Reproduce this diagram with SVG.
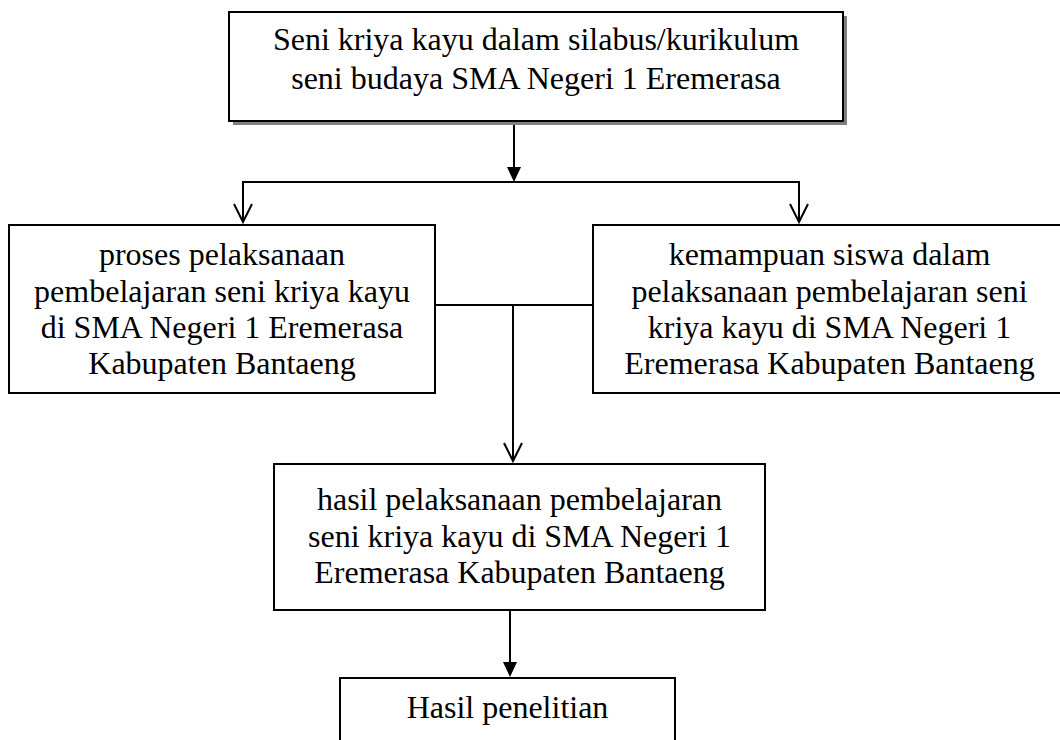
<svg xmlns="http://www.w3.org/2000/svg" width="1060" height="740" viewBox="0 0 1060 740">
<style>
.box{fill:#fff;stroke:#000;stroke-width:2}
.shadow{fill:#808080;stroke:none}
.t{font-family:"Liberation Serif","Times New Roman",serif;font-size:32px;fill:#000;text-anchor:middle}
.ln{fill:none;stroke:#000;stroke-width:2}
.fill{fill:#000;stroke:none}
</style>
<rect width="1060" height="740" fill="#fff"/>
<g id="connectors">
<line class="ln" x1="514" y1="121" x2="514" y2="170"/>
<polygon class="fill" points="507,167 521,167 514,182"/>
<polyline class="ln" points="243,222 243,182 799,182 799,222"/>
<path class="ln" d="M234,204 L243,222 L252,204"/>
<path class="ln" d="M790,204 L799,222 L808,204"/>
<line class="ln" x1="435" y1="305" x2="593" y2="305"/>
<line class="ln" x1="513" y1="305" x2="513" y2="461"/>
<path class="ln" d="M504,443 L513,461 L522,443"/>
<line class="ln" x1="510" y1="610" x2="510" y2="664"/>
<polygon class="fill" points="503,662 517,662 510,677"/>
</g>
<g id="node-top">
<rect class="shadow" x="233" y="16" width="614" height="109"/>
<rect class="box" x="229" y="12" width="614" height="109"/>
<text class="t" x="536" y="50">Seni kriya kayu dalam silabus/kurikulum</text>
<text class="t" x="536" y="89">seni budaya SMA Negeri 1 Eremerasa</text>
</g>
<g id="node-left">
<rect class="box" x="9" y="225" width="426" height="168"/>
<text class="t" x="222" y="265">proses pelaksanaan</text>
<text class="t" x="222" y="301.5">pembelajaran seni kriya kayu</text>
<text class="t" x="222" y="337.5">di SMA Negeri 1 Eremerasa</text>
<text class="t" x="222" y="373.5">Kabupaten Bantaeng</text>
</g>
<g id="node-right">
<rect class="box" x="593" y="225" width="480" height="168"/>
<text class="t" x="829.5" y="265">kemampuan siswa dalam</text>
<text class="t" x="829.5" y="301.5">pelaksanaan pembelajaran seni</text>
<text class="t" x="829.5" y="337.5">kriya kayu di SMA Negeri 1</text>
<text class="t" x="829.5" y="373.5">Eremerasa Kabupaten Bantaeng</text>
</g>
<g id="node-middle">
<rect class="box" x="274" y="464" width="491" height="146"/>
<text class="t" x="519.5" y="510">hasil pelaksanaan pembelajaran</text>
<text class="t" x="519.5" y="547">seni kriya kayu di SMA Negeri 1</text>
<text class="t" x="519.5" y="583">Eremerasa Kabupaten Bantaeng</text>
</g>
<g id="node-bottom">
<rect class="box" x="340" y="678" width="335" height="90"/>
<text class="t" x="507.5" y="718">Hasil penelitian</text>
</g>
</svg>
